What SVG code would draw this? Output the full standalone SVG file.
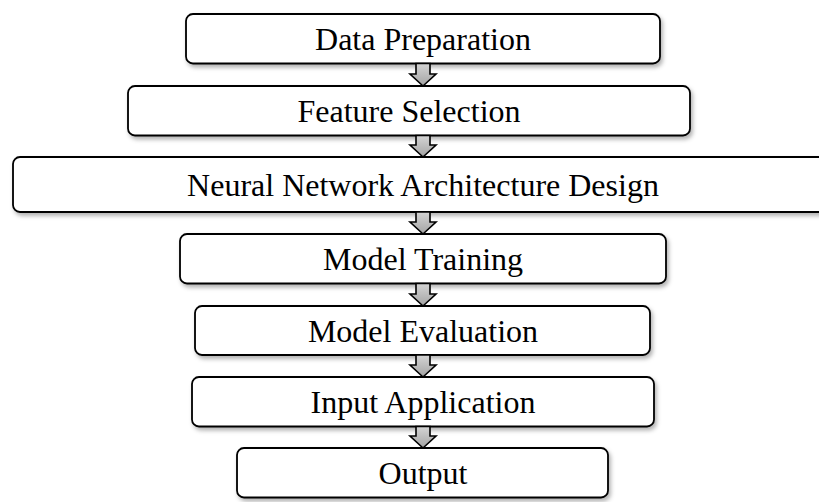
<svg xmlns="http://www.w3.org/2000/svg" width="819" height="502" viewBox="0 0 819 502">
<style>
.box{fill:#ffffff;stroke:#000000;stroke-width:1.8;filter:url(#sh)}
.lbl{font-family:"Liberation Serif","Times New Roman",serif;font-size:32px;fill:#000000;text-anchor:middle}
.arr{fill:url(#ag);stroke:#000000;stroke-width:1.6;stroke-linejoin:miter}
</style>
<defs>
<filter id="sh" x="-5%" y="-20%" width="110%" height="150%">
<feDropShadow dx="2" dy="3" stdDeviation="2" flood-color="#000000" flood-opacity="0.3"/>
</filter>
<linearGradient id="ag" x1="0" y1="0" x2="0" y2="1">
<stop offset="0" stop-color="#d4d4d4"/>
<stop offset="1" stop-color="#a4a4a4"/>
</linearGradient>
</defs>
<rect width="819" height="502" fill="#ffffff"/>
<g id="n1"><rect class="box" x="186" y="14" width="474" height="49.5" rx="7"/><text class="lbl" x="423" y="50">Data Preparation</text></g>
<g id="n2"><rect class="box" x="128" y="86" width="562" height="49.5" rx="7"/><text class="lbl" x="409" y="122">Feature Selection</text></g>
<g id="n3"><rect class="box" x="13" y="157" width="830" height="55" rx="7"/><text class="lbl" x="423" y="196">Neural Network Architecture Design</text></g>
<g id="n4"><rect class="box" x="180" y="234" width="486" height="49.5" rx="7"/><text class="lbl" x="423" y="270">Model Training</text></g>
<g id="n5"><rect class="box" x="195" y="306" width="455" height="49" rx="7"/><text class="lbl" x="423" y="342">Model Evaluation</text></g>
<g id="n6"><rect class="box" x="192" y="377" width="462" height="49.5" rx="7"/><text class="lbl" x="423" y="413">Input Application</text></g>
<g id="n7"><rect class="box" x="237" y="448" width="371" height="49.5" rx="7"/><text class="lbl" x="423" y="484">Output</text></g>
<g id="connectors">
<path class="arr" d="M416,63.5 L430,63.5 L430,74 L436,74 L423,86 L410,74 L416,74 Z"/>
<path class="arr" d="M416,135.5 L430,135.5 L430,145 L436,145 L423,157 L410,145 L416,145 Z"/>
<path class="arr" d="M416,212 L430,212 L430,222 L436,222 L423,234 L410,222 L416,222 Z"/>
<path class="arr" d="M416,283.5 L430,283.5 L430,294 L436,294 L423,306 L410,294 L416,294 Z"/>
<path class="arr" d="M416,355 L430,355 L430,365 L436,365 L423,377 L410,365 L416,365 Z"/>
<path class="arr" d="M416,426.5 L430,426.5 L430,436 L436,436 L423,448 L410,436 L416,436 Z"/>
</g>
</svg>
